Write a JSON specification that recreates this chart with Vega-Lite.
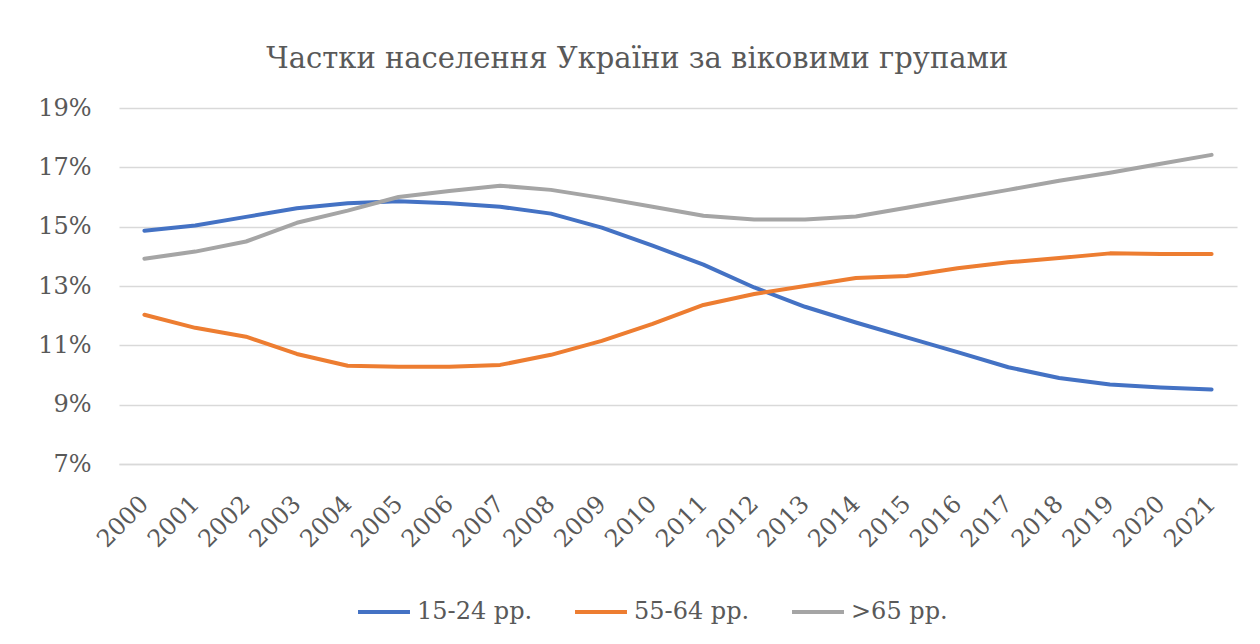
{
  "$schema": "https://vega.github.io/schema/vega-lite/v6.json",
  "width": 1118,
  "height": 356,
  "autosize": {"type": "none"},
  "padding": {"left": 119, "top": 108, "right": 23, "bottom": 180},
  "background": "white",
  "title": {
    "text": "Частки населення України за віковими групами",
    "font": "DejaVu Serif",
    "fontSize": 29,
    "fontWeight": "normal",
    "color": "#595959",
    "anchor": "middle",
    "frame": "bounds",
    "offset": 22
  },
  "data": {
    "values": [
      {"year": "2000", "group": "15-24 рр.", "share": 14.86},
      {"year": "2001", "group": "15-24 рр.", "share": 15.04},
      {"year": "2002", "group": "15-24 рр.", "share": 15.33},
      {"year": "2003", "group": "15-24 рр.", "share": 15.62},
      {"year": "2004", "group": "15-24 рр.", "share": 15.79},
      {"year": "2005", "group": "15-24 рр.", "share": 15.86},
      {"year": "2006", "group": "15-24 рр.", "share": 15.79},
      {"year": "2007", "group": "15-24 рр.", "share": 15.67},
      {"year": "2008", "group": "15-24 рр.", "share": 15.44},
      {"year": "2009", "group": "15-24 рр.", "share": 14.97},
      {"year": "2010", "group": "15-24 рр.", "share": 14.36},
      {"year": "2011", "group": "15-24 рр.", "share": 13.72},
      {"year": "2012", "group": "15-24 рр.", "share": 12.95},
      {"year": "2013", "group": "15-24 рр.", "share": 12.3},
      {"year": "2014", "group": "15-24 рр.", "share": 11.77},
      {"year": "2015", "group": "15-24 рр.", "share": 11.27},
      {"year": "2016", "group": "15-24 рр.", "share": 10.77},
      {"year": "2017", "group": "15-24 рр.", "share": 10.26},
      {"year": "2018", "group": "15-24 рр.", "share": 9.9},
      {"year": "2019", "group": "15-24 рр.", "share": 9.68},
      {"year": "2020", "group": "15-24 рр.", "share": 9.58},
      {"year": "2021", "group": "15-24 рр.", "share": 9.51},
      {"year": "2000", "group": "55-64 рр.", "share": 12.03},
      {"year": "2001", "group": "55-64 рр.", "share": 11.59},
      {"year": "2002", "group": "55-64 рр.", "share": 11.29},
      {"year": "2003", "group": "55-64 рр.", "share": 10.71},
      {"year": "2004", "group": "55-64 рр.", "share": 10.31},
      {"year": "2005", "group": "55-64 рр.", "share": 10.28},
      {"year": "2006", "group": "55-64 рр.", "share": 10.28},
      {"year": "2007", "group": "55-64 рр.", "share": 10.34},
      {"year": "2008", "group": "55-64 рр.", "share": 10.68},
      {"year": "2009", "group": "55-64 рр.", "share": 11.15},
      {"year": "2010", "group": "55-64 рр.", "share": 11.72},
      {"year": "2011", "group": "55-64 рр.", "share": 12.36},
      {"year": "2012", "group": "55-64 рр.", "share": 12.73},
      {"year": "2013", "group": "55-64 рр.", "share": 13.0},
      {"year": "2014", "group": "55-64 рр.", "share": 13.27},
      {"year": "2015", "group": "55-64 рр.", "share": 13.34},
      {"year": "2016", "group": "55-64 рр.", "share": 13.6},
      {"year": "2017", "group": "55-64 рр.", "share": 13.8},
      {"year": "2018", "group": "55-64 рр.", "share": 13.94},
      {"year": "2019", "group": "55-64 рр.", "share": 14.1},
      {"year": "2020", "group": "55-64 рр.", "share": 14.08},
      {"year": "2021", "group": "55-64 рр.", "share": 14.08},
      {"year": "2000", "group": ">65 рр.", "share": 13.92},
      {"year": "2001", "group": ">65 рр.", "share": 14.16},
      {"year": "2002", "group": ">65 рр.", "share": 14.5},
      {"year": "2003", "group": ">65 рр.", "share": 15.13},
      {"year": "2004", "group": ">65 рр.", "share": 15.54},
      {"year": "2005", "group": ">65 рр.", "share": 16.0},
      {"year": "2006", "group": ">65 рр.", "share": 16.2},
      {"year": "2007", "group": ">65 рр.", "share": 16.38},
      {"year": "2008", "group": ">65 рр.", "share": 16.24},
      {"year": "2009", "group": ">65 рр.", "share": 15.97},
      {"year": "2010", "group": ">65 рр.", "share": 15.67},
      {"year": "2011", "group": ">65 рр.", "share": 15.37},
      {"year": "2012", "group": ">65 рр.", "share": 15.24},
      {"year": "2013", "group": ">65 рр.", "share": 15.24},
      {"year": "2014", "group": ">65 рр.", "share": 15.34},
      {"year": "2015", "group": ">65 рр.", "share": 15.64},
      {"year": "2016", "group": ">65 рр.", "share": 15.94},
      {"year": "2017", "group": ">65 рр.", "share": 16.24},
      {"year": "2018", "group": ">65 рр.", "share": 16.55},
      {"year": "2019", "group": ">65 рр.", "share": 16.82},
      {"year": "2020", "group": ">65 рр.", "share": 17.12},
      {"year": "2021", "group": ">65 рр.", "share": 17.42}
    ]
  },
  "mark": {"type": "line", "strokeWidth": 4, "strokeCap": "round", "strokeJoin": "round"},
  "encoding": {
    "x": {
      "field": "year",
      "type": "ordinal",
      "scale": {"type": "point", "padding": 0.5},
      "axis": {
        "title": null,
        "labelAngle": -45,
        "labelAlign": "right",
        "labelBaseline": "middle",
        "labelFont": "DejaVu Serif",
        "labelFontSize": 24,
        "labelColor": "#595959",
        "labelPadding": 36,
        "ticks": false,
        "tickSize": 0,
        "domain": true,
        "domainColor": "#d9d9d9",
        "domainWidth": 1.5,
        "grid": false
      }
    },
    "y": {
      "field": "share",
      "type": "quantitative",
      "scale": {"domain": [7, 19], "nice": false, "zero": false},
      "axis": {
        "title": null,
        "values": [7, 9, 11, 13, 15, 17, 19],
        "labelExpr": "datum.value + '%'",
        "labelFont": "DejaVu Serif",
        "labelFontSize": 24,
        "labelColor": "#595959",
        "labelPadding": 28,
        "ticks": false,
        "tickSize": 0,
        "domain": false,
        "grid": true,
        "gridColor": "#d9d9d9",
        "gridWidth": 1.5
      }
    },
    "color": {
      "field": "group",
      "type": "nominal",
      "sort": ["15-24 рр.", "55-64 рр.", ">65 рр."],
      "scale": {
        "domain": ["15-24 рр.", "55-64 рр.", ">65 рр."],
        "range": ["#4472C4", "#ED7D31", "#A5A5A5"]
      },
      "legend": {
        "title": null,
        "orient": "none",
        "legendX": 237,
        "legendY": 476,
        "direction": "horizontal",
        "columns": 3,
        "columnPadding": 34,
        "padding": 0,
        "symbolType": "stroke",
        "symbolSize": 2700,
        "symbolStrokeWidth": 4,
        "labelFont": "DejaVu Serif",
        "labelFontSize": 24,
        "labelColor": "#595959",
        "labelOffset": 5,
        "labelLimit": 300
      }
    }
  },
  "config": {"view": {"stroke": null}}
}
